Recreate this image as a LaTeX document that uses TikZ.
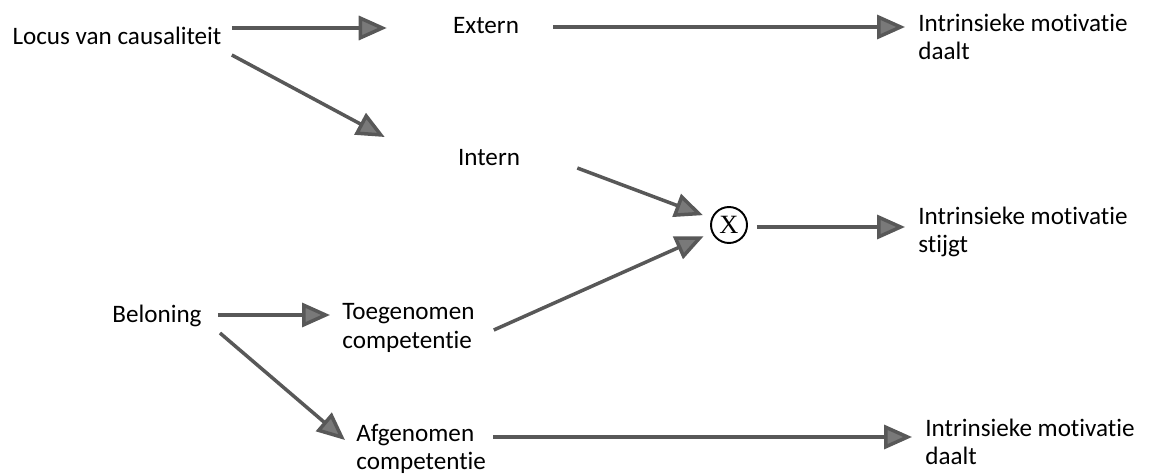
\documentclass[tikz,border=0pt]{standalone}
\usepackage{fontspec}
\setmainfont{Carlito}[Ligatures=NoCommon]
\newfontfamily\serifx{Liberation Serif}
\usetikzlibrary{arrows.meta,calc}
\definecolor{arrowgray}{HTML}{585858}
\begin{document}
\begin{tikzpicture}[x=0.02cm,y=-0.02cm]
\useasboundingbox (0,0) rectangle (1158,476);
\tikzstyle{lbl} = [inner sep=0pt, font=\fontsize{14.3}{16}\selectfont, align=left];
\tikzstyle{res} = [lbl, anchor=west];
\tikzstyle{conn} = [draw=arrowgray, line width=0.7mm, -{Triangle[length=5.6mm,width=4.8mm,fill=arrowgray!80]}];
\tikzstyle{times} = [draw, circle, line width=1.1pt, minimum size=0.72cm, inner sep=0pt, font=\serifx\fontsize{15}{15}\selectfont];
%
\node[lbl] (locus) at (117,36) {Locus van causaliteit};
\node[lbl] (extern) at (486,26) {Extern};
\node[lbl] (intern) at (489,158) {Intern};
\node[res] (daalt1) at (918,37) {Intrinsieke motivatie\\daalt};
\node[times] (x) at (729,225) {X};
\node[res] (stijgt) at (918,232) {Intrinsieke motivatie\\stijgt};
%
\node[lbl] (beloning) at (157,316) {Beloning};
\node[res] (toeg) at (342,328) {Toegenomen\\competentie};
\node[res] (afg) at (356,449) {Afgenomen\\competentie};
\node[res] (daalt2) at (925,442) {Intrinsieke motivatie\\daalt};
%
\draw[conn] ($(locus.east)+(10,-8)$) -- ($(extern.west)+(-66,2)$);
\draw[conn] ($(locus.east)+(10,19)$) -- ($(intern.west)+(-73,-21)$);
\draw[conn] ($(extern.east)+(34,1)$) -- ($(daalt1.west)+(-13,-10)$);
%
\draw[conn, shorten >=1.8mm] ($(intern.east)+(57,10)$) -- (x);
\draw[conn, shorten >=1.8mm] ($(toeg.east)+(19,2)$) -- (x);
\draw[conn] ($(x.east)+(9,2)$) -- ($(stijgt.west)+(-13,-5)$);
%
\draw[conn] ($(beloning.east)+(16,-1)$) -- ($(toeg.west)+(-12,-13)$);
\draw[conn] ($(beloning.east)+(18,17)$) -- ($(afg.west)+(-11,-9)$);
\draw[conn] ($(afg.east)+(7,-12)$) -- ($(daalt2.west)+(-13,-5)$);
\end{tikzpicture}
\end{document}
